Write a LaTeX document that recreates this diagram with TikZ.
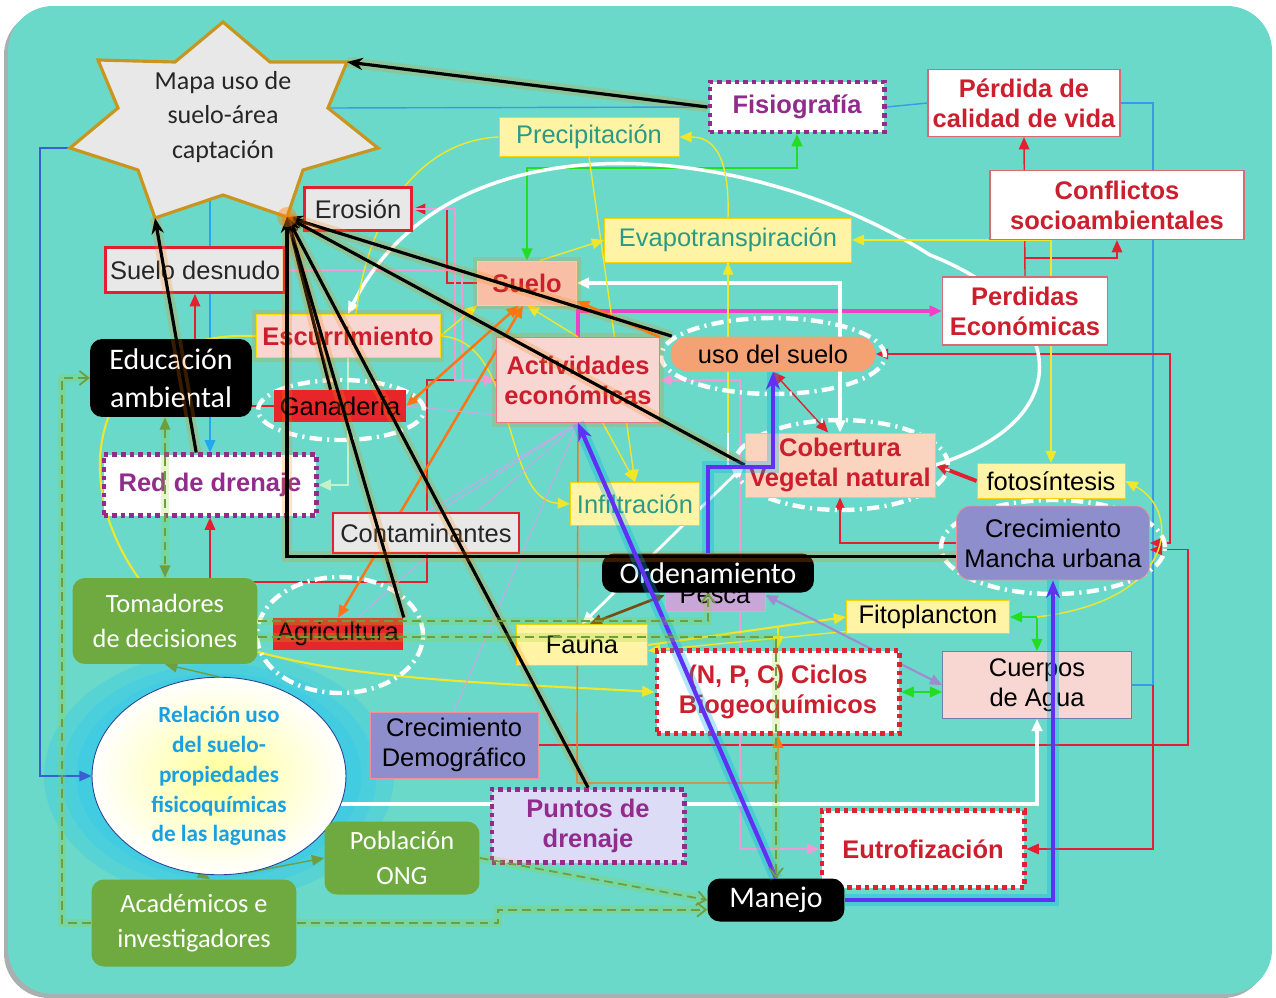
\documentclass[tikz,border=0pt]{standalone}
\usepackage{fontspec}
\setmainfont{Liberation Sans}
\newfontfamily\calfont{Carlito}
\usetikzlibrary{positioning, arrows.meta, shapes.geometric, calc}
\pgfdeclarelayer{canvas}
\pgfdeclarelayer{back}
\pgfdeclarelayer{front}
\pgfsetlayers{canvas,back,main,front}

\definecolor{bgteal}{HTML}{6AD9C9}
\definecolor{shadowgray}{HTML}{A8B0B0}
\definecolor{stargray}{HTML}{E8E8E8}
\definecolor{gold}{HTML}{C8961E}
\definecolor{redtxt}{HTML}{CC1F2E}
\definecolor{frame}{HTML}{D86A74}
\definecolor{redln}{HTML}{E42030}
\definecolor{purp}{HTML}{922B8C}
\definecolor{tealtxt}{HTML}{2A9A86}
\definecolor{lyellow}{HTML}{FFF4A6}
\definecolor{salmon}{HTML}{F9BFA6}
\definecolor{pinkfill}{HTML}{F8D6D2}
\definecolor{usofill}{HTML}{F4A274}
\definecolor{redfill}{HTML}{E8262A}
\definecolor{cobfill}{HTML}{FAD4BE}
\definecolor{urban}{HTML}{8E8ECC}
\definecolor{pescafill}{HTML}{C9A6D8}
\definecolor{greenbox}{HTML}{6EAA40}
\definecolor{lavfill}{HTML}{DCDCF6}
\definecolor{slate}{HTML}{7080A8}
\definecolor{reltxt}{HTML}{1AA0E0}
\definecolor{glowcyan}{HTML}{30C8F0}
\definecolor{violetln}{HTML}{6030F5}
\definecolor{olive1}{HTML}{6E9E40}
\definecolor{bluedark}{HTML}{3A5FD0}
\definecolor{bluelt}{HTML}{3A9AE8}
\definecolor{bluesky}{HTML}{22A8F2}
\definecolor{pinkln}{HTML}{F09AD8}
\definecolor{magln}{HTML}{F040C8}
\definecolor{greenln}{HTML}{22DD22}
\definecolor{yelln}{HTML}{F2E62A}
\definecolor{orangeln}{HTML}{FF7414}
\definecolor{lavln}{HTML}{C8A8E8}
\definecolor{purpln}{HTML}{A08AD0}
\definecolor{brownln}{HTML}{7A4A10}
\definecolor{paleg}{HTML}{C4F2C8}

\begin{document}
\begin{tikzpicture}[
        x=0.02cm, y=-0.02cm,
        >={Triangle[length=7pt,width=6pt]},
        cell/.style={inner sep=0pt, align=center, font=\fontsize{14.5}{17}\selectfont},
        factor/.style={cell, draw=frame, line width=0.7pt, fill=white, text=redtxt, font=\fontsize{14.5}{17}\selectfont\bfseries},
        graybox/.style={cell, draw=redln, line width=1.7pt, fill=stargray, text=black!85},
        climate/.style={cell, draw=yellow!70!orange, line width=0.5pt, fill=lyellow, text=tealtxt},
        soil/.style={cell, draw=orange!40, line width=0.5pt, text=redtxt, font=\fontsize{14.5}{17}\selectfont\bfseries},
        drain/.style={cell, draw=purp, fill=white, line width=2.3pt, dash pattern=on 2.6pt off 2.3pt, text=purp, font=\fontsize{14.5}{17}\selectfont\bfseries},
        cyclebox/.style={drain, draw=redln, text=redtxt},
        actor/.style={cell, fill=greenbox, rounded corners=7pt, text=white, font=\calfont\fontsize{15}{20}\selectfont},
        action/.style={cell, fill=black, rounded corners=7pt, text=white, font=\calfont\fontsize{17}{21.5}\selectfont},
        glow/.style={preaction={draw=orange, line width=5pt, opacity=0.2}},
        halo/.style={draw=white, line width=2.5pt, dash pattern=on 7pt off 3pt on 1.2pt off 3pt},
        wire/.style={line width=0.8pt},
        blk/.style={draw=black, line width=1.8pt, -{Stealth[length=9pt,width=7pt]}, preaction={draw=orange, -, line width=6pt, opacity=0.22}},
        vio/.style={draw=violetln, line width=2.4pt, -{Stealth[length=10pt,width=8pt]}, preaction={draw=cyan, -, line width=7pt, opacity=0.3}},
        gdash/.style={draw=olive1, line width=1pt, dash pattern=on 5pt off 3pt, -{Straight Barb[length=5pt,width=8pt]}, preaction={draw=yellow!60!green, -, solid, line width=5pt, opacity=0.22}},
    ]
    \useasboundingbox (0,0) rectangle (1276,998);

    % Canvas and glow round the lagoon ellipse
    \begin{pgfonlayer}{canvas}
        \fill[white] (0,0) rectangle (1276,998);
        \fill[shadowgray, rounded corners=0.9cm] (4,10) rectangle (1268,998);
        \fill[bgteal, rounded corners=0.9cm] (8,6) rectangle (1272,994);
        \foreach \rx/\ry in {3.5/2.5,3.15/2.25,2.85/2.05}
            \fill[glowcyan, opacity=0.3] (219,776) ellipse [x radius=\rx cm, y radius=\ry cm];
    \end{pgfonlayer}

    % Draw the star
    \draw[draw=gold, fill=stargray, line width=1.8pt] (223,22) -- (270,62) -- (347,62) -- (328,108) -- (378,148) -- (303,170) -- (287,217) -- (223,195) -- (155,218) -- (138,170) -- (70,148) -- (118,108) -- (98,60) -- (175,62) -- cycle;
    \node[cell, font=\calfont\fontsize{14.8}{19.5}\selectfont, text=black!85] (mapa) at (223,117) {Mapa uso de\\suelo-área\\captación};
    \coordinate (mapaUR) at (347,62);
    \coordinate (mapaR) at (328,108);
    \coordinate (mapaLR) at (287,217);
    \coordinate (mapaLL) at (155,218);
    \coordinate (mapaL) at (70,148);
    \coordinate (mapaS) at (210,199);

    % Draw the dashed halos
    \draw[halo] (773,356) ellipse [x radius=2.24cm, y radius=0.76cm];
    \draw[halo] (341,410) ellipse [x radius=1.66cm, y radius=0.6cm];
    \draw[halo] (841,465) ellipse [x radius=2.14cm, y radius=0.9cm];
    \draw[halo] (1053,547) ellipse [x radius=2.24cm, y radius=0.94cm];
    \draw[halo] (340,635) ellipse [x radius=1.66cm, y radius=1.16cm];

    % Draw the concept boxes
    \node[drain, minimum width=3.5cm, minimum height=1cm] (fisio) at (797,107) {Fisiografía};
    \node[factor, minimum width=3.84cm, minimum height=1.34cm] (perdida) at (1024,103) {Pérdida de\\calidad de vida};
    \node[climate, minimum width=3.6cm, minimum height=0.78cm] (precip) at (589,137) {Precipitación};
    \node[factor, minimum width=5.08cm, minimum height=1.38cm] (conflictos) at (1117,205) {Conflictos\\socioambientales};
    \node[graybox, minimum width=2.14cm, minimum height=0.86cm] (erosion) at (358,209) {Erosión};
    \node[climate, minimum width=4.94cm, minimum height=0.88cm] (evapo) at (728,240) {Evapotranspiración};
    \node[graybox, minimum width=3.58cm, minimum height=0.9cm] (sdesnudo) at (195,270) {Suelo desnudo};
    \node[soil, glow, fill=salmon, minimum width=1.98cm, minimum height=0.88cm] (suelo) at (527,283) {Suelo};
    \node[factor, minimum width=3.3cm, minimum height=1.36cm] (peco) at (1025,311) {Perdidas\\Económicas};
    \node[soil, glow, fill=pinkfill, draw=yellow!80!orange, minimum width=3.68cm, minimum height=0.86cm] (escurr) at (348,336) {Escurrimiento};
    \node[soil, glow, fill=pinkfill, draw=redln!60, minimum width=3.26cm, minimum height=1.7cm] (activ) at (578,380) {Actividades\\económicas};
    \node[cell, fill=usofill, rounded corners=0.35cm, minimum width=4.1cm, minimum height=0.7cm] (uso) at (773,354) {uso del suelo};
    \node[action, minimum width=3.24cm, minimum height=1.56cm] (educ) at (171,378) {Educación\\ambiental};
    \node[cell, fill=redfill, minimum width=2.64cm, minimum height=0.64cm] (ganad) at (340,406) {Ganadería};
    \node[soil, fill=cobfill, draw=yellow!70!orange, minimum width=3.8cm, minimum height=1.28cm] (cobert) at (840,465) {Cobertura\\Vegetal natural};
    \node[climate, text=black, minimum width=2.96cm, minimum height=0.7cm] (foto) at (1051,481) {fotosíntesis};
    \node[drain, minimum width=4.26cm, minimum height=1.22cm] (red) at (210,485) {Red de drenaje};
    \node[climate, minimum width=2.58cm, minimum height=0.86cm] (infil) at (635,504) {Infiltración};
    \node[graybox, line width=1pt, minimum width=3.72cm, minimum height=0.8cm] (contam) at (426,533) {Contaminantes};
    \node[cell, fill=urban, draw=redln!50, rounded corners=8pt, minimum width=3.86cm, minimum height=1.48cm] (mancha) at (1053,543) {Crecimiento\\Mancha urbana};
    \node[cell, fill=pescafill, draw=redln!40, minimum width=2cm, minimum height=0.64cm] (pesca) at (715,595) {Pesca};
    \node[action, minimum width=4.24cm, minimum height=0.78cm] (orden) at (708,573) {Ordenamiento};
    \node[actor, minimum width=3.7cm, minimum height=1.72cm] (tomad) at (165,621) {Tomadores\\de decisiones};
    \node[cell, fill=redfill, minimum width=2.62cm, minimum height=0.64cm] (agric) at (338,634) {Agricultura};
    \node[climate, text=black, minimum width=2.62cm, minimum height=0.82cm] (fauna) at (582,645) {Fauna};
    \node[climate, text=black, minimum width=3.26cm, minimum height=0.66cm] (fito) at (928,617) {Fitoplancton};
    \node[cyclebox, minimum width=4.86cm, minimum height=1.66cm] (ciclos) at (778,692) {(N, P, C) Ciclos\\Biogeoquímicos};
    \node[cell, fill=pinkfill, draw=slate, minimum width=3.78cm, minimum height=1.34cm] (cuerpos) at (1037,685) {Cuerpos\\de Agua};
    \node[ellipse, draw=bluedark!70!black, line width=0.5pt, shading=radial, inner color=yellow!40, outer color=white, minimum width=5.08cm, minimum height=3.64cm, inner sep=0pt, align=center, text=reltxt, font=\calfont\bfseries\fontsize{13.2}{17}\selectfont] (relacion) at (219,776) {Relación uso\\del suelo-\\propiedades\\fisicoquímicas\\de las lagunas};
    \node[cell, fill=urban, draw=redln!50, minimum width=3.36cm, minimum height=1.32cm] (cdemo) at (454,745) {Crecimiento\\Demográfico};
    \node[drain, fill=lavfill, minimum width=3.86cm, minimum height=1.46cm] (puntos) at (588,826) {Puntos de\\drenaje};
    \node[actor, minimum width=3.1cm, minimum height=1.46cm] (pobla) at (402,858) {Población\\ONG};
    \node[cyclebox, minimum width=4.06cm, minimum height=1.54cm] (eutro) at (923,849) {Eutrofización};
    \node[action, minimum width=2.74cm, minimum height=0.86cm] (manejo) at (776,900) {Manejo};
    \node[actor, minimum width=4.1cm, minimum height=1.74cm] (academ) at (194,923) {Académicos e\\investigadores};

    \coordinate (branch) at (1025,258);
    \coordinate (yj) at (1051,240);
    \coordinate (gj) at (1037,617);
    \coordinate (cj) at (1153,685);
    \coordinate (yc) at (778,628);

    % Thin links under the boxes
    \begin{pgfonlayer}{back}
        % blue
        \draw[wire, draw=bluedark, ->] (mapaL) -- (40,148) |- (relacion.west);
        \draw[wire, draw=bluelt] (mapaR) -- (fisio.west);
        \draw[wire, draw=bluelt] (fisio.east) -- (perdida.west);
        \draw[wire, draw=bluelt] (perdida.east) -- (1153,103) |- (cuerpos.east);
        \draw[wire, draw=bluesky, ->] (mapaS) -- (red.north);
        % red
        \draw[wire, draw=redln, ->] (cj) |- (eutro.east);
        \draw[wire, draw=redln, ->] (cdemo.east) -- (1188,745) |- (mancha.-4);
        \draw[wire, draw=redln, <->] (uso.east) -- (1170,354) |- (mancha.east);
        \draw[wire, draw=redln, ->] (mancha.west) -| (cobert.south);
        \draw[draw=redln, line width=2.2pt, ->] (foto.west) -- (cobert.east);
        \draw[wire, draw=redln, <->] (uso.south) -- (cobert.110);
        \draw[wire, draw=redln, ->] (peco.north) -- (perdida.south);
        \draw[wire, draw=redln, ->] (branch) -| (conflictos.south);
        \draw[wire, draw=redln, ->] (suelo.west) -- (447,283) |- (erosion.east);
        \draw[wire, draw=redln, ->] (activ.west) -- (427,380) -- (427,582) -| (red.south);
        \draw[wire, draw=redln, ->] (ganad.west) -| (sdesnudo.south);
        % pink and magenta
        \draw[draw=pinkln, line width=1.6pt, ->] (erosion.east) -- (455,209) |- (activ.west);
        \draw[draw=pinkln, line width=1.6pt] (sdesnudo.east) -- (462,270) -- (462,380);
        \draw[draw=pinkln, line width=1.2pt, <->] (activ.east) -- (740,380) |- (eutro.west);
        \draw[draw=magln, line width=2pt, ->] (activ.north) |- (peco.west);
        % green
        \draw[draw=greenln, line width=1.4pt, <->] (suelo.north) -- (527,168) -| (fisio.south);
        \draw[draw=greenln, line width=1pt, ->] (gj) -- (fito.east);
        \draw[draw=greenln, line width=1pt, ->] (gj) -- (cuerpos.north);
        \draw[draw=greenln, line width=1pt, <->] (ciclos.east) -- (ciclos.east -| cuerpos.west);
        % white
        \draw[draw=white, line width=2pt, <->] (suelo.east) -| (cobert.north);
        \draw[draw=white, line width=2pt, ->] (cobert.east) .. controls (1080,420) and (1070,310) .. (930,255) .. controls (750,140) and (450,110) .. (escurr.north);
        \draw[draw=white, line width=2pt, ->] (relacion.-13) -| (cuerpos.south);
        \draw[draw=white, line width=1.6pt, <->] (fauna.north) -- (cobert.west);
        \draw[draw=white, line width=1.6pt] (evapo.south) -- (evapo.south |- cobert.west);
        % yellow
        \draw[wire, draw=yelln] (precip.west) .. controls (430,140) and (370,200) .. (escurr.70);
        \draw[wire, draw=yelln, ->] (precip.south) -- (infil.north);
        \draw[wire, draw=yelln, ->] (activ.-60) -- (infil.north);
        \draw[wire, draw=yelln, ->] (evapo.north) .. controls (730,150) and (710,137) .. (precip.east);
        \draw[wire, draw=yelln, ->] (suelo.60) -- (evapo.west);
        \draw[wire, draw=yelln, ->] (yj) -- (evapo.east);
        \draw[wire, draw=yelln, ->] (yj) -- (foto.north);
        \draw[wire, draw=yelln, ->] (cobert.north -| evapo.south) -- (evapo.south);
        \draw[wire, draw=yelln, ->] (gj) .. controls (1180,600) and (1180,510) .. (foto.east);
        \draw[draw=yelln, line width=1.2pt, ->] (escurr.west) .. controls (100,330) and (60,470) .. (140,580) .. controls (200,680) and (450,680) .. (ciclos.west);
        \draw[wire, draw=yelln, ->] (escurr.east) .. controls (520,340) and (500,500) .. (infil.west);
        \draw[wire, draw=yelln, ->] (escurr.east) -- (suelo.south west);
        \draw[wire, draw=yelln, ->] (activ.north) -- (suelo.south);
        \draw[draw=yelln, line width=1.2pt, ->] (fauna.east) -- (fito.west);
        \draw[wire, draw=yelln, ->] (fito.190) -- (fauna.-5);
        \draw[wire, draw=yelln, ->] (yc) -- (ciclos.north);
        % orange
        \draw[draw=orangeln, line width=1.4pt, <->] (suelo.-100) -- (agric.north);
        \draw[draw=orangeln, line width=1.4pt, <->] (suelo.250) -- (ganad.east);
        \draw[draw=orangeln, line width=1.4pt, ->] (activ.north east) -- (suelo.-20);
        \draw[wire, draw=orangeln, ->] (activ.south) -- (577,783) -| (ciclos.south);
        % lavender fan
        \foreach \dest in {ganad.east, contam.60, contam.north, agric.40, cdemo.north}
            \draw[line width=0.6pt, draw=lavln] (activ.south) -- (\dest);
        \draw[draw=purpln, line width=1.2pt, <->] (pesca.east) -- (cuerpos.west);
        \draw[draw=brownln, line width=1.5pt, <->] (fauna.70) -- (pesca.west);
        \draw[draw=paleg, line width=1.5pt, ->] (escurr.south) |- (red.east);
        % olive
        \draw[wire, draw=olive1, ->] (relacion.north) -- (tomad.south);
        \draw[wire, draw=olive1, <->] (relacion.-100) -- (academ.70);
        \draw[wire, draw=olive1, ->] (relacion.-75) -- (pobla.west);
    \end{pgfonlayer}

    % Thick links over the boxes
    \begin{pgfonlayer}{front}
        \draw[blk] (red.113) -- (mapaLL);
        \draw[blk] (fisio.west) -- (mapaUR);
        \foreach \source in {uso.170, cobert.west, ganad.120, agric.north east, puntos.north}
            \draw[blk] (\source) -- (mapaLR);
        \draw[blk] (mancha.188) -| (mapaLR);
        \fill[orange, opacity=0.4] (mapaLR) circle (0.2cm);

        \draw[vio] (manejo.north) -- (activ.south);
        \draw[vio] (orden.north) |- ($(uso.south)+(0,95)$) -- (uso.south);
        \draw[vio] (manejo.east) -| (mancha.south);

        \draw[gdash, <->] (educ.south -| tomad.north) -- (tomad.north);
        \draw[gdash] (academ.west) -- (62,923) |- (educ.west);
        \draw[gdash] (academ.east) -- (498,923) |- (manejo.188);
        \draw[gdash] (pobla.east) -- (manejo.west);
        \draw[gdash] (tomad.east) -| (orden.south);
        \draw[gdash] (tomad.-10) -| (manejo.north);
    \end{pgfonlayer}
\end{tikzpicture}
\end{document}
